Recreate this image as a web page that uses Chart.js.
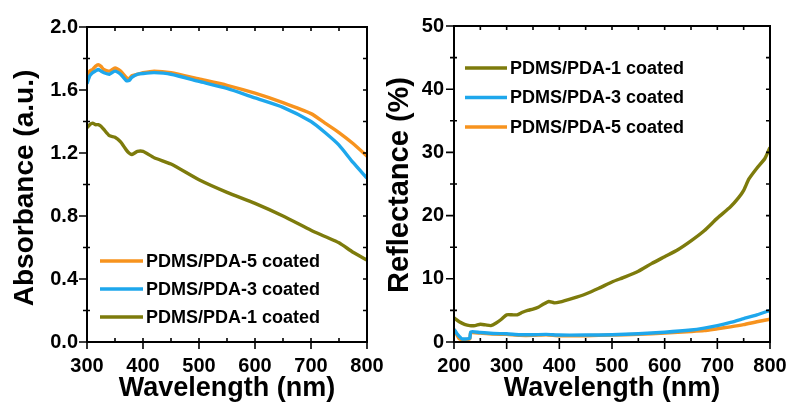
<!DOCTYPE html>
<html>
<head>
<meta charset="utf-8">
<script src="https://cdn.jsdelivr.net/npm/chart.js@4.4.0/dist/chart.umd.min.js"></script>
<style>
  body { margin: 0; background: #fff; width: 787px; height: 407px; overflow: hidden; position: relative; }
  #absWrap { position: absolute; left: 0; top: 0; width: 383px; height: 407px; }
  #refWrap { position: absolute; left: 383px; top: 0; width: 404px; height: 407px; }
</style>
</head>
<body>
<div id="absWrap"><canvas id="absChart"></canvas></div>
<div id="refWrap"><canvas id="refChart"></canvas></div>
<script>
// absorbance panel
const wlAbs = [300, 305, 310, 315, 320, 325, 330, 340, 350, 360, 370, 375, 380, 390, 400, 420, 450, 500, 550, 600, 650, 700, 725, 750, 775, 800];
const abs5 = [1.68, 1.72, 1.73, 1.75, 1.76, 1.75, 1.73, 1.72, 1.74, 1.72, 1.68, 1.67, 1.69, 1.70, 1.71, 1.72, 1.71, 1.67, 1.63, 1.58, 1.52, 1.45, 1.39, 1.33, 1.26, 1.18];
const abs3 = [1.64, 1.69, 1.71, 1.72, 1.73, 1.72, 1.71, 1.70, 1.72, 1.70, 1.66, 1.66, 1.68, 1.70, 1.705, 1.71, 1.70, 1.655, 1.61, 1.55, 1.49, 1.40, 1.33, 1.25, 1.14, 1.04];
const abs1 = [1.36, 1.38, 1.39, 1.38, 1.38, 1.37, 1.35, 1.31, 1.30, 1.27, 1.22, 1.20, 1.19, 1.21, 1.21, 1.17, 1.13, 1.03, 0.95, 0.88, 0.80, 0.71, 0.67, 0.63, 0.57, 0.52];

// reflectance panel
const wlRef1 = [200, 210, 220, 230, 240, 250, 260, 270, 280, 290, 300, 310, 320, 330, 340, 350, 360, 370, 380, 390, 400, 425, 450, 475, 500, 525, 550, 575, 600, 625, 650, 675, 700, 725, 740, 750, 760, 775, 790, 800];
const ref1 = [3.8, 3.2, 2.8, 2.6, 2.6, 2.8, 2.7, 2.6, 3.0, 3.6, 4.3, 4.3, 4.3, 4.7, 5.0, 5.2, 5.5, 6.0, 6.4, 6.2, 6.3, 6.9, 7.6, 8.5, 9.5, 10.3, 11.2, 12.4, 13.5, 14.6, 16.0, 17.6, 19.6, 21.4, 22.8, 24.0, 25.8, 27.5, 29.0, 30.8];
const wlRef35 = [200, 205, 210, 215, 225, 230, 232, 250, 275, 300, 325, 350, 375, 400, 450, 500, 550, 600, 650, 675, 700, 725, 750, 775, 800];
const ref3 = [2.0, 1.4, 0.9, 0.5, 0.5, 0.6, 1.6, 1.5, 1.35, 1.3, 1.15, 1.15, 1.2, 1.1, 1.1, 1.15, 1.3, 1.55, 1.9, 2.2, 2.6, 3.1, 3.7, 4.3, 5.0];
const ref5 = [2.0, 1.2, 0.5, 0.4, 0.4, 0.5, 1.45, 1.4, 1.25, 1.2, 1.05, 1.05, 1.15, 1.0, 1.0, 1.1, 1.2, 1.4, 1.65, 1.8, 2.1, 2.4, 2.75, 3.2, 3.6];

const labels = ['PDMS/PDA-1 coated', 'PDMS/PDA-3 coated', 'PDMS/PDA-5 coated'];
const colOlive = '#7d7b0c';
const colBlue = '#1ea7ec';
const colOrange = '#f7931e';
const FONT = '"Liberation Sans", Arial, sans-serif';

function pts(xs, ys) {
    return xs.map((x, i) => ({ x: x, y: ys[i] }));
}

function serie(label, color, data) {
    return {
        label: label,
        data: data,
        borderColor: color,
        backgroundColor: color,
        borderWidth: 3.4,
        pointRadius: 0,
        tension: 0.2,
        fill: false
    };
}

// frame, tick marks, axis titles and legend
const framePlugin = {
    id: 'frame',
    afterDatasetsDraw(chart, args, o) {
        const ctx = chart.ctx;
        const a = chart.chartArea;
        const x = chart.scales.x, y = chart.scales.y;
        ctx.save();
        ctx.strokeStyle = '#000';
        ctx.lineWidth = 2;
        ctx.strokeRect(a.left, a.top, a.right - a.left, a.bottom - a.top);
        ctx.lineWidth = 1.6;
        ctx.beginPath();
        for (let i = 0; x.min + i * o.xMinor <= x.max + 1e-9; i++) {
            const px = x.getPixelForValue(x.min + i * o.xMinor);
            if (i % 2 === 0) {
                ctx.moveTo(px, a.bottom); ctx.lineTo(px, a.bottom + 7);
            }
            ctx.moveTo(px, a.bottom); ctx.lineTo(px, a.bottom - 4);
            ctx.moveTo(px, a.top); ctx.lineTo(px, a.top + 4);
        }
        for (let i = 0; y.min + i * o.yMinor <= y.max + 1e-9; i++) {
            const py = y.getPixelForValue(y.min + i * o.yMinor);
            if (i % 2 === 0) {
                ctx.moveTo(a.left, py); ctx.lineTo(a.left - 8, py);
            } else {
                ctx.moveTo(a.left - 4, py); ctx.lineTo(a.left + 3, py);
            }
            ctx.moveTo(a.right, py); ctx.lineTo(a.right - 4, py);
        }
        ctx.stroke();

        // axis titles
        ctx.fillStyle = '#000';
        ctx.font = 'bold 27px ' + FONT;
        ctx.textAlign = 'center';
        ctx.textBaseline = 'alphabetic';
        ctx.fillText(o.xTitle, (a.left + a.right) / 2, 396);
        ctx.save();
        ctx.font = 'bold ' + o.yTitleSize + 'px ' + FONT;
        ctx.translate(o.yTitleX, o.yTitleY);
        ctx.rotate(-Math.PI / 2);
        ctx.textBaseline = 'middle';
        ctx.fillText(o.yTitle, 0, 0);
        ctx.restore();

        // legend
        const L = o.legend;
        ctx.font = 'bold 18px ' + FONT;
        ctx.textAlign = 'left';
        ctx.textBaseline = 'middle';
        L.order.forEach((di, k) => {
            const ds = chart.data.datasets[di];
            const yy = L.y + k * L.dy;
            ctx.strokeStyle = ds.borderColor;
            ctx.lineWidth = 3.5;
            ctx.beginPath();
            ctx.moveTo(L.x, yy);
            ctx.lineTo(L.x + L.len, yy);
            ctx.stroke();
            ctx.fillStyle = '#000';
            ctx.fillText(ds.label, L.x + L.len + 3, yy + 1);
        });
        ctx.restore();
    }
};

function axisX(min, max, step) {
    return {
        type: 'linear', min: min, max: max,
        grid: { display: false }, border: { display: false },
        ticks: { stepSize: step, color: '#000', padding: 4, font: { family: FONT, size: 20, weight: 'bold' } },
        afterFit: s => {
            s.height = 65;
            s.paddingLeft = 0;
            s.paddingRight = 0;
        }
    };
}

function axisY(min, max, step, w, pad, fmt) {
    return {
        min: min, max: max,
        grid: { display: false }, border: { display: false },
        ticks: { stepSize: step, color: '#000', padding: pad, callback: fmt, font: { family: FONT, size: 20, weight: 'bold' } },
        afterFit: s => {
            s.width = w;
            s.paddingTop = 0;
            s.paddingBottom = 0;
        }
    };
}

new Chart(document.getElementById('absChart'), {
    type: 'line',
    data: {
        datasets: [
            serie(labels[0], colOlive, pts(wlAbs, abs1)),
            serie(labels[1], colBlue, pts(wlAbs, abs3)),
            serie(labels[2], colOrange, pts(wlAbs, abs5))
        ]
    },
    options: {
        responsive: true,
        maintainAspectRatio: false,
        animation: false,
        layout: { padding: { left: 0, right: 16, top: 27, bottom: 0 } },
        scales: {
            x: axisX(300, 800, 100),
            y: axisY(0, 2, 0.4, 87, 1, v => v.toFixed(1))
        },
        plugins: {
            legend: { display: false },
            tooltip: { enabled: false },
            frame: {
                xMinor: 50, yMinor: 0.2,
                xTitle: 'Wavelength (nm)', yTitle: 'Absorbance (a.u.)', yTitleX: 25, yTitleY: 188, yTitleSize: 28,
                legend: { x: 100, y: 261, dy: 28, len: 43, order: [2, 1, 0] }
            }
        }
    },
    plugins: [framePlugin]
});

new Chart(document.getElementById('refChart'), {
    type: 'line',
    data: {
        datasets: [
            serie(labels[0], colOlive, pts(wlRef1, ref1)),
            serie(labels[1], colBlue, pts(wlRef35, ref3)),
            serie(labels[2], colOrange, pts(wlRef35, ref5))
        ]
    },
    options: {
        responsive: true,
        maintainAspectRatio: false,
        animation: false,
        layout: { padding: { left: 0, right: 17, top: 26, bottom: 0 } },
        scales: {
            x: axisX(200, 800, 100),
            y: axisY(0, 50, 10, 71, 2, v => v)
        },
        plugins: {
            legend: { display: false },
            tooltip: { enabled: false },
            frame: {
                xMinor: 50, yMinor: 5,
                xTitle: 'Wavelength (nm)', yTitle: 'Reflectance (%)', yTitleX: 17, yTitleY: 185, yTitleSize: 29,
                legend: { x: 82, y: 68, dy: 29.5, len: 42, order: [0, 1, 2] }
            }
        }
    },
    plugins: [framePlugin]
});
</script>
</body>
</html>
